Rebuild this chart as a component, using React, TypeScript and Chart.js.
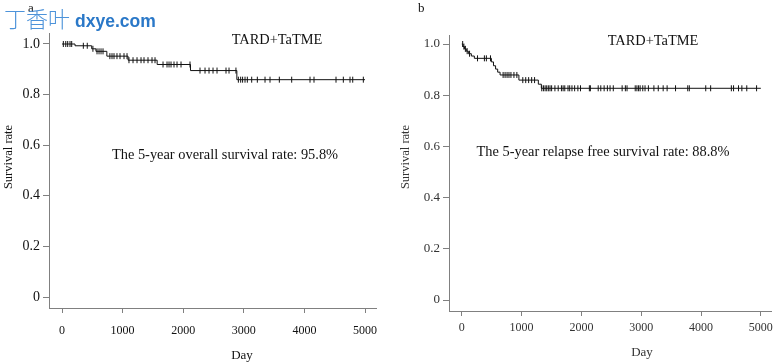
import React, { useEffect, useRef } from "react";
import { Chart, registerables } from "chart.js";

Chart.register(...registerables);

const SERIF = '"Liberation Serif", "Times New Roman", serif';

// Axis ticks
const xTickValues = [0, 1000, 2000, 3000, 4000, 5000];
const yTickValues = [0, 0.2, 0.4, 0.6, 0.8, 1.0];

// Panel a: overall survival (Kaplan–Meier step function)
const osTimes = [0, 215, 490, 560, 740, 1090, 1570, 2120, 2885];
const osSurv = [1.0, 0.993, 0.981, 0.971, 0.952, 0.936, 0.919, 0.895, 0.859];
const osEnd = 5000;
const osCensored = [
  22, 62, 94, 132, 160, 352, 417, 510, 578, 611, 644, 677, 790, 825, 858, 907,
  957, 1023, 1073, 1105, 1172, 1238, 1304, 1353, 1419, 1485, 1535, 1667, 1733,
  1766, 1799, 1848, 1898, 1964, 2112, 2277, 2360, 2426, 2492, 2558, 2706, 2756,
  2870, 2910, 2948, 2980, 3020, 3058, 3130, 3223, 3350, 3432, 3586, 3790, 4092,
  4158, 4521, 4642, 4752, 4797, 4972,
];

// Panel b: relapse free survival
const rfsTimes = [0, 20, 45, 75, 110, 160, 210, 495, 530, 565, 600, 640, 955, 1280, 1330];
const rfsSurv = [1.0, 0.99, 0.981, 0.972, 0.962, 0.953, 0.944, 0.93, 0.915, 0.902, 0.89, 0.879, 0.859, 0.843, 0.827];
const rfsEnd = 5000;
const rfsCensored = [
  15, 35, 60, 90, 130, 263, 378, 411, 480, 691, 724, 757, 789, 822, 872, 921,
  1020, 1069, 1118, 1168, 1217, 1337, 1365, 1393, 1420, 1447, 1475, 1502, 1557,
  1612, 1666, 1694, 1722, 1776, 1804, 1842, 1887, 1941, 1985, 2133, 2150, 2281,
  2324, 2380, 2434, 2479, 2533, 2681, 2735, 2763, 2900, 2928, 2956, 2982, 3026,
  3064, 3120, 3212, 3285, 3367, 3433, 3574, 3778, 3804, 4079, 4161, 4507, 4544,
  4627, 4683, 4765, 4929,
];

const curveLabel = "TARD+TaTME";
const osNote = "The 5-year overall survival rate: 95.8%";
const rfsNote = "The 5-year relapse free survival rate: 88.8%";
const yTitle = "Survival rate";
const xTitle = "Day";

function survAt(times: number[], surv: number[], t: number) {
  let v = surv[0];
  for (let i = 0; i < times.length; i++) if (times[i] <= t) v = surv[i];
  return v;
}

type TextItem = {
  text: string;
  x: number;
  y: number;
  font: string;
  color: string;
  align?: CanvasTextAlign;
  baseline?: CanvasTextBaseline;
  rotate?: boolean;
};

type PanelCfg = {
  left: number;
  times: number[];
  surv: number[];
  end: number;
  censored: number[];
  xMin: number;
  xMax: number;
  yMin: number;
  yMax: number;
  padTop: number;
  padRight: number;
  yWidth: number;
  xHeight: number;
  xLabelPad: number;
  yTickSize: number;
  labelColor: string;
  axisColor: string;
  texts: TextItem[];
  before?: TextItem[];
};

function Panel({ cfg }: { cfg: PanelCfg }) {
  const ref = useRef<HTMLCanvasElement | null>(null);
  useEffect(() => {
    if (!ref.current) return;
    const curve = cfg.times.map((t, i) => ({ x: t, y: cfg.surv[i] }));
    curve.push({ x: cfg.end, y: cfg.surv[cfg.surv.length - 1] });
    const cens = cfg.censored.map((t) => ({ x: t, y: survAt(cfg.times, cfg.surv, t) }));

    const drawTexts = (ctx: CanvasRenderingContext2D, items: TextItem[]) => {
      for (const it of items) {
        ctx.save();
        ctx.font = it.font;
        ctx.fillStyle = it.color;
        ctx.textAlign = it.align || "center";
        ctx.textBaseline = it.baseline || "middle";
        if (it.rotate) {
          ctx.translate(it.x, it.y);
          ctx.rotate(-Math.PI / 2);
          ctx.fillText(it.text, 0, 0);
        } else {
          ctx.fillText(it.text, it.x, it.y);
        }
        ctx.restore();
      }
    };

    const textPlugin = {
      id: "panelTexts",
      afterDraw(chart: any) {
        const ctx = chart.ctx as CanvasRenderingContext2D;
        if (cfg.before) drawTexts(ctx, cfg.before);
        drawTexts(ctx, cfg.texts);
      },
    };

    const chart = new Chart(ref.current, {
      type: "line",
      data: {
        datasets: [
          {
            data: curve,
            stepped: true,
            borderColor: "#111",
            borderWidth: 1,
            pointRadius: 0,
            fill: false,
          },
          {
            data: cens,
            showLine: false,
            pointStyle: "line",
            rotation: 90,
            pointRadius: 3,
            pointBorderWidth: 1,
            pointBorderColor: "#111",
            borderColor: "#111",
          } as any,
        ],
      },
      options: {
        responsive: false,
        animation: false,
        devicePixelRatio: 1,
        layout: { padding: { left: 0, top: cfg.padTop, right: cfg.padRight, bottom: 0 } },
        plugins: { legend: { display: false }, tooltip: { enabled: false } },
        scales: {
          x: {
            type: "linear",
            min: cfg.xMin,
            max: cfg.xMax,
            afterBuildTicks: (s: any) => {
              s.ticks = xTickValues.map((v) => ({ value: v }));
            },
            afterFit: (s: any) => {
              s.height = cfg.xHeight;
            },
            ticks: {
              autoSkip: false,
              maxRotation: 0,
              padding: cfg.xLabelPad,
              color: cfg.labelColor,
              font: { family: SERIF, size: 12 },
              callback: (v: any) => String(v),
            },
            grid: { drawOnChartArea: false, drawTicks: true, tickLength: 5, color: cfg.axisColor },
            border: { display: true, color: cfg.axisColor, width: 1 },
          },
          y: {
            type: "linear",
            min: cfg.yMin,
            max: cfg.yMax,
            afterBuildTicks: (s: any) => {
              s.ticks = yTickValues.map((v) => ({ value: v }));
            },
            afterFit: (s: any) => {
              s.width = cfg.yWidth;
            },
            ticks: {
              padding: 3,
              color: cfg.labelColor,
              font: { family: SERIF, size: cfg.yTickSize },
              callback: (v: any) => (v === 0 ? "0" : Number(v).toFixed(1)),
            },
            grid: { drawOnChartArea: false, drawTicks: true, tickLength: 6, color: cfg.axisColor },
            border: { display: true, color: cfg.axisColor, width: 1 },
          },
        },
      },
      plugins: [textPlugin],
    } as any);
    return () => chart.destroy();
  }, [cfg]);

  return (
    <canvas
      ref={ref}
      width={389}
      height={363}
      style={{ position: "absolute", left: cfg.left, top: 0, width: 389, height: 363 }}
    />
  );
}

const leftCfg: PanelCfg = {
  left: 0,
  times: osTimes,
  surv: osSurv,
  end: osEnd,
  censored: osCensored,
  xMin: -214.5,
  xMax: 5181,
  yMin: -11 / 253,
  yMax: 1 + 11 / 253,
  padTop: 33,
  padRight: 13,
  yWidth: 49,
  xHeight: 55,
  xLabelPad: 11,
  yTickSize: 14,
  labelColor: "#111",
  axisColor: "#808080",
  before: [
    { text: "a", x: 28, y: 12, font: `13px ${SERIF}`, color: "#111", align: "left", baseline: "alphabetic" },
  ],
  texts: [
    { text: curveLabel, x: 277, y: 40, font: `14.4px ${SERIF}`, color: "#111" },
    { text: osNote, x: 225, y: 155, font: `14.4px ${SERIF}`, color: "#111" },
    { text: yTitle, x: 9, y: 157, font: `12.5px ${SERIF}`, color: "#111", rotate: true },
    { text: xTitle, x: 242, y: 356, font: `13px ${SERIF}`, color: "#111" },
    { text: "丁香叶", x: 4, y: 19, font: `300 22px "Noto Sans CJK SC"`, color: "#4d93da", align: "left" },
    { text: "dxye.com", x: 75, y: 27, font: `bold 17.5px "Liberation Sans", Arial, sans-serif`, color: "#2a78c8", align: "left", baseline: "alphabetic" },
  ],
};

const rightCfg: PanelCfg = {
  left: 389,
  times: rfsTimes,
  surv: rfsSurv,
  end: rfsEnd,
  censored: rfsCensored,
  xMin: -213.8,
  xMax: 5181,
  yMin: -11 / 256,
  yMax: 1 + 9 / 256,
  padTop: 35,
  padRight: 1,
  yWidth: 60,
  xHeight: 52,
  xLabelPad: 5,
  yTickSize: 13,
  labelColor: "#333",
  axisColor: "#808080",
  texts: [
    { text: "b", x: 29, y: 12, font: `13px ${SERIF}`, color: "#111", align: "left", baseline: "alphabetic" },
    { text: curveLabel, x: 264, y: 41, font: `14.4px ${SERIF}`, color: "#111" },
    { text: rfsNote, x: 214, y: 152, font: `14.4px ${SERIF}`, color: "#111" },
    { text: yTitle, x: 17, y: 157, font: `12.5px ${SERIF}`, color: "#333", rotate: true },
    { text: xTitle, x: 253, y: 353, font: `13px ${SERIF}`, color: "#333" },
  ],
};

export default function App() {
  return (
    <div style={{ position: "absolute", left: 0, top: 0, width: 778, height: 363, background: "#fff" }}>
      <Panel cfg={leftCfg} />
      <Panel cfg={rightCfg} />
    </div>
  );
}
